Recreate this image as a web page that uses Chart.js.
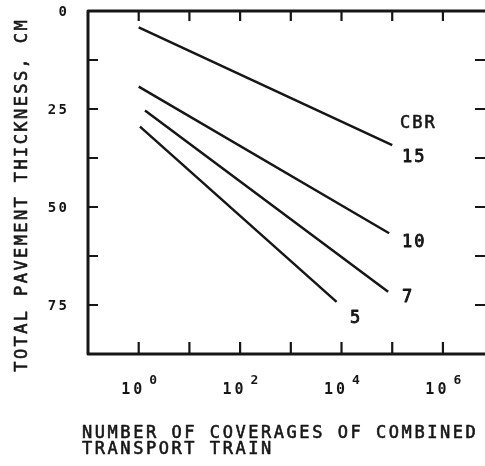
<!DOCTYPE html>
<html><head><meta charset="utf-8">
<style>
html,body{margin:0;padding:0;background:#fff;overflow:hidden;width:485px;height:466px}
#wrap{position:relative;width:490px;height:466px}
canvas{display:block}
</style>
<script src="https://cdn.jsdelivr.net/npm/chart.js@4.4.1/dist/chart.umd.min.js"></script>
</head><body><div id="wrap"><canvas id="c" width="490" height="466"></canvas></div>
<script>
// ---- data ----
const cbrLabels      = ['15', '10', '7', '5'];
const coverageStart  = [1, 1, 1.33, 1.06];
const coverageEnd    = [1e5, 8.7e4, 8.3e4, 8000];
const thicknessStart = [4.2, 19.3, 25.4, 29.5];
const thicknessEnd   = [34.2, 56.7, 71.6, 74.2];
// label anchors (data coordinates)
const labelCoverage  = [1.56e5, 1.56e5, 1.56e5, 1.93e4];
const labelThickness = [38.5, 60.2, 74.2, 79.6];
const cbrHeaderCoverage = 1.43e5;
const cbrHeaderThickness = 29.8;
// ticks
const xTickValues    = [1, 10, 100, 1e3, 1e4, 1e5, 1e6];
const xTickExponents = [0, 2, 4, 6];
const yTickValues    = [12.5, 25, 37.5, 50, 62.5, 75];
const yTickLabels    = [0, 25, 50, 75];
const xTitleLines    = ['NUMBER OF COVERAGES OF COMBINED', 'TRANSPORT TRAIN'];
const yTitle         = 'TOTAL PAVEMENT THICKNESS, CM';

const INK = '#161616';
const MONO = '"DejaVu Sans Mono", "Liberation Mono", monospace';

const datasets = cbrLabels.map((name, i) => ({
  label: 'CBR ' + name,
  data: [{x: coverageStart[i], y: thicknessStart[i]}, {x: coverageEnd[i], y: thicknessEnd[i]}],
  showLine: true,
  borderColor: INK,
  borderWidth: 2.5,
  pointRadius: 0,
  fill: false
}));

function heavyText(ctx, s, x, y, w) {
  ctx.lineWidth = w;
  ctx.strokeText(s, x, y);
  ctx.fillText(s, x, y);
}

const decor = {
  id: 'decor',
  afterDraw(chart) {
    const {ctx, chartArea: a, scales: {x, y}} = chart;
    ctx.save();
    ctx.strokeStyle = INK;
    ctx.fillStyle = INK;
    ctx.lineJoin = 'round';
    // frame
    ctx.lineWidth = 3;
    ctx.strokeRect(a.left, a.top, a.right - a.left, a.bottom - a.top);
    // inward ticks
    ctx.lineWidth = 2.2;
    ctx.beginPath();
    xTickValues.forEach(v => {
      const px = x.getPixelForValue(v);
      ctx.moveTo(px, a.bottom); ctx.lineTo(px, a.bottom - 12);
      ctx.moveTo(px, a.top); ctx.lineTo(px, a.top + 10);
    });
    yTickValues.forEach(v => {
      const py = y.getPixelForValue(v);
      ctx.moveTo(a.left, py); ctx.lineTo(a.left + 10, py);
      ctx.moveTo(a.right, py); ctx.lineTo(a.right - 12, py);
    });
    ctx.stroke();

    // y tick labels
    ctx.font = 'bold 14px ' + MONO;
    ctx.letterSpacing = '2.5px';
    ctx.textAlign = 'right';
    ctx.textBaseline = 'middle';
    yTickLabels.forEach(v => {
      ctx.fillText(String(v), a.left - 18.5, y.getPixelForValue(v) + 1);
    });

    // x tick labels 10^n
    ctx.textBaseline = 'alphabetic';
    xTickExponents.forEach(e => {
      const px = x.getPixelForValue(Math.pow(10, e));
      ctx.font = 'bold 15px ' + MONO;
      ctx.letterSpacing = '3px';
      ctx.textAlign = 'right';
      ctx.fillText('10', px + 6.5, a.bottom + 39.5);
      ctx.font = 'bold 13px ' + MONO;
      ctx.letterSpacing = '0px';
      ctx.textAlign = 'left';
      ctx.fillText(String(e), px + 10.5, a.bottom + 29.5);
    });

    // titles
    ctx.font = '17px ' + MONO;
    ctx.letterSpacing = '2.55px';
    ctx.textAlign = 'left';
    heavyText(ctx, xTitleLines[0], 82, 437.5, 0.6);
    heavyText(ctx, xTitleLines[1], 82, 453.5, 0.6);

    ctx.save();
    ctx.letterSpacing = '2.4px';
    ctx.translate(27, 196);
    ctx.rotate(-Math.PI / 2);
    ctx.textAlign = 'center';
    ctx.textBaseline = 'alphabetic';
    heavyText(ctx, yTitle, 1.2, 0, 0.6);
    ctx.restore();

    // series labels
    ctx.font = '17px ' + MONO;
    ctx.letterSpacing = '2px';
    ctx.textAlign = 'left';
    heavyText(ctx, 'CBR', x.getPixelForValue(cbrHeaderCoverage), y.getPixelForValue(cbrHeaderThickness), 0.6);
    cbrLabels.forEach((name, i) => {
      ctx.textAlign = i === 3 ? 'center' : 'left';
      heavyText(ctx, name, x.getPixelForValue(labelCoverage[i]), y.getPixelForValue(labelThickness[i]), 0.9);
    });
    ctx.restore();
  }
};

new Chart(document.getElementById('c'), {
  type: 'scatter',
  data: {datasets},
  options: {
    responsive: false,
    devicePixelRatio: 1,
    animation: false,
    layout: {padding: {left: 88, top: 11, right: 3, bottom: 112}},
    plugins: {legend: {display: false}, tooltip: {enabled: false}},
    scales: {
      x: {type: 'logarithmic', min: 0.1, max: 7.4e6, display: false},
      y: {type: 'linear', reverse: true, min: 0, max: 87.5, display: false}
    }
  },
  plugins: [decor]
});
</script>
</body></html>
